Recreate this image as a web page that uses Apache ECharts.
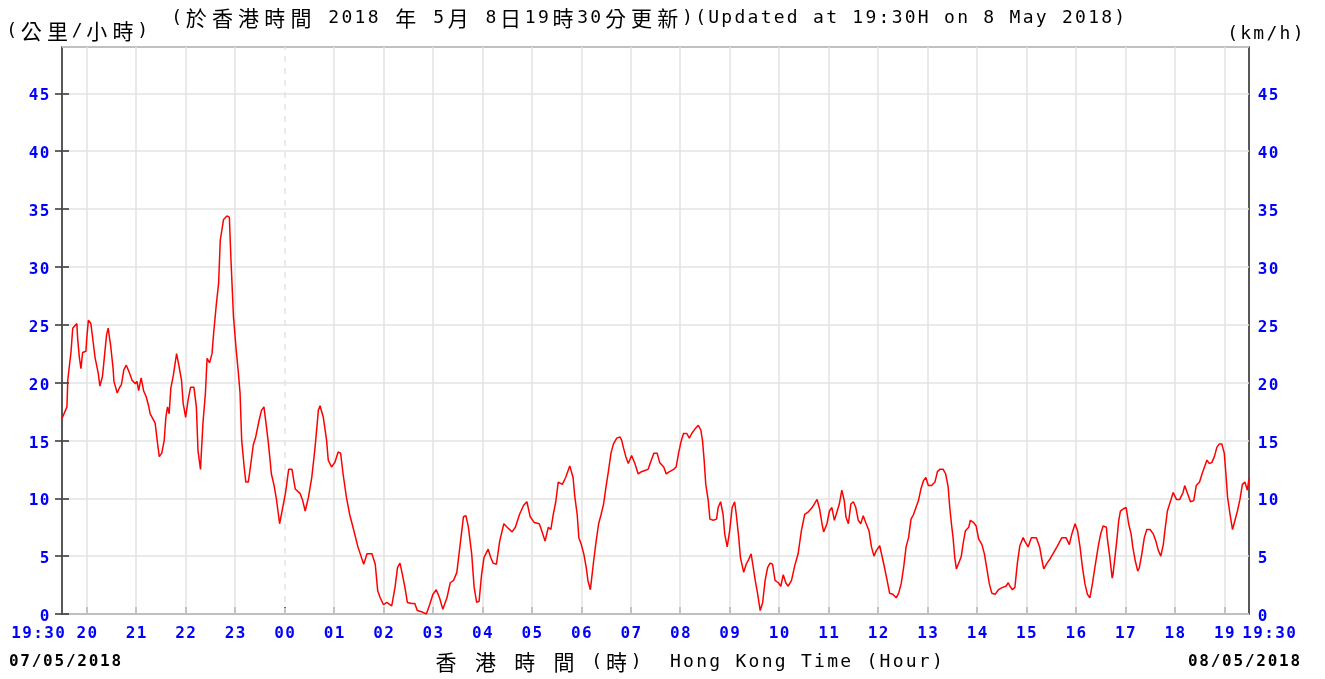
<!DOCTYPE html>
<html>
<head>
<meta charset="utf-8">
<title>Wind speed</title>
<script src="https://cdn.jsdelivr.net/npm/echarts@6/dist/echarts.min.js"></script>
<style>
  html, body { margin: 0; padding: 0; background: #ffffff; }
  #chart { width: 1325px; height: 679px; }
</style>
</head>
<body>
<div id="chart"></div>
<script>
// Minutes elapsed since 19:30 on 07/05/2018, and the wind speed (km/h) at that moment.
const minutes = [
  0, 6, 7, 11, 13, 18, 19, 21, 23, 25, 29, 30, 32, 35, 38, 40, 44, 46, 49, 51,
  54, 56, 59, 62, 63, 67, 70, 72, 75, 78, 82, 85, 89, 91, 93, 96, 99, 102, 105, 107,
  113, 116, 118, 121, 124, 126, 128, 130, 132, 135, 139, 142, 145, 147, 150, 153, 156, 160, 163, 165,
  168, 171, 174, 176, 179, 182, 184, 187, 190, 192, 196, 200, 203, 205, 208, 211, 214, 216, 218, 221,
  223, 226, 228, 232, 235, 239, 242, 245, 248, 250, 252, 254, 257, 260, 264, 271, 275, 279, 283, 289,
  292, 295, 299, 303, 307, 311, 313, 317, 321, 323, 327, 331, 335, 338, 341, 345, 349, 353, 359, 366,
  370, 376, 380, 383, 386, 390, 394, 400, 404, 407, 410, 413, 416, 419, 424, 428, 431, 436, 442, 446,
  450, 454, 458, 462, 467, 471, 475, 479, 483, 487, 490, 493, 497, 500, 503, 506, 509, 512, 517, 520,
  523, 527, 531, 536, 540, 546, 550, 555, 560, 564, 568, 573, 579, 582, 586, 590, 593, 596, 599, 602,
  607, 611, 616, 620, 622, 625, 627, 630, 633, 636, 638, 641, 645, 648, 651, 654, 657, 660, 663, 666,
  669, 673, 677, 679, 681, 684, 687, 691, 695, 699, 703, 707, 711, 715, 718, 722, 725, 730, 733, 737,
  742, 745, 748, 751, 754, 758, 761, 764, 768, 772, 775, 777, 779, 781, 784, 786, 790, 794, 796, 799,
  802, 804, 807, 810, 813, 816, 818, 821, 823, 827, 830, 833, 836, 838, 841, 844, 847, 850, 853, 856,
  859, 862, 865, 869, 872, 875, 878, 881, 885, 889, 893, 897, 901, 905, 910, 916, 919, 922, 924, 928,
  931, 934, 937, 940, 943, 946, 949, 951, 954, 957, 960, 963, 966, 969, 972, 975, 979, 982, 985, 988,
  992, 994, 997, 1001, 1004, 1008, 1012, 1015, 1018, 1021, 1024, 1027, 1030, 1033, 1036, 1039, 1042, 1045, 1048, 1051,
  1055, 1059, 1062, 1065, 1069, 1072, 1075, 1077, 1079, 1081, 1083, 1085, 1089, 1091, 1093, 1096, 1100, 1102, 1106, 1109,
  1112, 1116, 1119, 1122, 1125, 1128, 1132, 1136, 1141, 1145, 1148, 1150, 1153, 1156, 1159, 1162, 1166, 1168, 1172, 1176,
  1182, 1186, 1189, 1191, 1195, 1199, 1203, 1207, 1213, 1218, 1222, 1225, 1229, 1232, 1235, 1238, 1241, 1244, 1247, 1250,
  1253, 1257, 1260, 1263, 1267, 1268, 1271, 1274, 1275, 1278, 1280, 1282, 1284, 1288, 1291, 1294, 1297, 1299, 1302, 1305,
  1307, 1310, 1313, 1316, 1320, 1324, 1327, 1330, 1333, 1336, 1338, 1341, 1345, 1348, 1352, 1356, 1360, 1362, 1365, 1369,
  1373, 1376, 1380, 1383, 1386, 1389, 1392, 1395, 1398, 1401, 1404, 1407, 1410, 1412, 1414, 1417, 1420, 1423, 1426, 1429,
  1432, 1435, 1438, 1440
];

const speeds = [
  16.9, 17.9, 20.2, 22.7, 24.7, 25.1, 23.8, 22.2, 21.2, 22.6, 22.7, 23.8, 25.4, 25.1, 23.4, 22.2, 20.8, 19.7, 20.5, 21.9,
  24.1, 24.7, 23.2, 21.2, 20.1, 19.1, 19.6, 19.8, 21.1, 21.5, 20.8, 20.2, 19.9, 20.1, 19.3, 20.4, 19.3, 18.8, 18.0, 17.3,
  16.5, 14.7, 13.6, 13.9, 15.0, 17.0, 17.9, 17.3, 19.5, 20.6, 22.5, 21.4, 20.2, 18.2, 17.0, 18.5, 19.6, 19.6, 17.9, 14.1,
  12.5, 16.5, 19.1, 22.1, 21.7, 22.5, 24.3, 26.6, 28.6, 32.3, 34.1, 34.4, 34.3, 30.6, 25.7, 23.1, 20.8, 19.1, 15.0, 12.7,
  11.4, 11.4, 12.4, 14.6, 15.3, 16.7, 17.6, 17.9, 16.2, 15.0, 13.6, 12.1, 11.2, 10.0, 7.8, 10.4, 12.5, 12.5, 10.8, 10.4,
  9.8, 8.9, 10.1, 11.8, 14.4, 17.6, 18.0, 17.0, 15.0, 13.3, 12.7, 13.1, 14.0, 13.9, 12.1, 10.1, 8.6, 7.5, 5.8, 4.3,
  5.2, 5.2, 4.3, 2.0, 1.4, 0.8, 1.0, 0.7, 2.3, 4.0, 4.4, 3.4, 2.3, 1.0, 0.9, 0.9, 0.3, 0.2, 0.0, 0.8,
  1.7, 2.1, 1.4, 0.4, 1.4, 2.7, 2.9, 3.6, 6.0, 8.4, 8.5, 7.5, 5.2, 2.3, 1.0, 1.1, 3.4, 4.9, 5.6, 4.9,
  4.4, 4.3, 6.3, 7.8, 7.5, 7.1, 7.5, 8.6, 9.4, 9.7, 8.4, 7.9, 7.8, 7.2, 6.3, 7.5, 7.3, 8.6, 9.7, 11.4,
  11.2, 11.8, 12.8, 11.8, 10.2, 8.6, 6.6, 6.0, 5.2, 4.0, 2.9, 2.1, 4.6, 6.3, 7.8, 8.6, 9.5, 11.0, 12.4, 13.9,
  14.7, 15.2, 15.3, 15.0, 14.4, 13.6, 13.0, 13.7, 13.0, 12.1, 12.3, 12.4, 12.5, 13.3, 13.9, 13.9, 13.1, 12.7, 12.1, 12.3,
  12.5, 12.7, 13.9, 14.9, 15.6, 15.6, 15.2, 15.6, 16.0, 16.3, 15.9, 15.0, 13.3, 11.2, 9.8, 8.2, 8.1, 8.2, 9.2, 9.7,
  8.6, 6.9, 5.8, 7.2, 9.2, 9.7, 8.6, 6.6, 4.9, 3.6, 4.3, 4.7, 5.2, 4.3, 2.9, 1.7, 0.3, 1.0, 2.9, 4.0,
  4.4, 4.3, 2.9, 2.7, 2.4, 3.4, 2.7, 2.4, 2.9, 4.2, 5.2, 7.2, 8.6, 8.8, 9.2, 9.9, 9.1, 7.8, 7.1, 7.8,
  8.9, 9.2, 8.1, 8.8, 9.5, 10.7, 9.8, 8.4, 7.8, 9.5, 9.7, 9.2, 8.1, 7.8, 8.5, 7.9, 7.2, 5.8, 5.0, 5.5,
  5.9, 5.8, 4.3, 2.9, 1.8, 1.7, 1.4, 1.8, 2.6, 4.0, 5.8, 6.6, 8.2, 8.6, 9.2, 9.8, 10.8, 11.5, 11.8, 11.1,
  11.1, 11.4, 12.3, 12.5, 12.5, 12.1, 11.0, 9.2, 7.8, 6.6, 4.9, 3.9, 4.6, 5.0, 6.0, 7.2, 7.5, 8.1, 7.9, 7.6,
  6.5, 6.0, 5.2, 3.9, 2.6, 1.8, 1.7, 2.1, 2.3, 2.4, 2.7, 2.4, 2.1, 2.3, 4.4, 5.9, 6.6, 6.3, 5.8, 6.6,
  6.6, 5.8, 4.6, 3.9, 4.4, 4.8, 5.3, 5.8, 6.6, 6.6, 6.0, 6.9, 7.8, 7.2, 5.8, 4.0, 2.6, 1.7, 1.4, 2.6,
  4.0, 5.8, 6.9, 7.6, 7.5, 6.6, 5.0, 3.1, 3.4, 5.3, 6.6, 8.1, 8.9, 9.1, 9.2, 7.8, 6.9, 5.8, 4.6, 3.7,
  4.0, 5.2, 6.6, 7.3, 7.3, 6.9, 6.3, 5.5, 5.0, 6.0, 7.2, 8.9, 9.8, 10.5, 9.9, 9.9, 10.5, 11.1, 10.5, 9.7,
  9.8, 11.1, 11.4, 12.1, 12.7, 13.3, 13.0, 13.1, 13.6, 14.4, 14.7, 14.7, 13.9, 12.1, 10.1, 8.6, 7.3, 8.1, 8.9, 9.9,
  11.2, 11.4, 10.7, 11.7
];

// Hour marks along the time axis (minutes since 19:30) and their labels.
const hourTicks = [30, 90, 150, 210, 270, 330, 390, 450, 510, 570, 630, 690,
                   750, 810, 870, 930, 990, 1050, 1110, 1170, 1230, 1290, 1350, 1410];
const hourLabels = ['20', '21', '22', '23', '00', '01', '02', '03', '04', '05', '06', '07',
                    '08', '09', '10', '11', '12', '13', '14', '15', '16', '17', '18', '19'];
const spanMinutes = 1440;
const edgeLabel = '19:30';
const midnightTick = hourTicks[hourLabels.indexOf('00')];

// Speed axis
const speedMax = 49;
const speedStep = 5;

// Text
const unitZh = '(公里/小時)';
const unitEn = '(km/h)';
const titleText = '(於香港時間 2018 年 5月 8日19時30分更新)(Updated at 19:30H on 8 May 2018)';
const axisTitle = '香 港 時 間 (時)  Hong Kong Time (Hour)';
const startDate = '07/05/2018';
const endDate = '08/05/2018';

const MONO = '"DejaVu Sans Mono", "Liberation Mono", monospace';
const CJK = '"Noto Sans CJK TC", "Noto Sans CJK SC", sans-serif';

// Fixed-pitch text: each character sits in its own cell (wide glyphs take two cells).
function isWide(ch) { return ch.charCodeAt(0) > 0x2e80; }
function cellText(str, half, wide) {
  return str.split('').map(ch => '{' + (isWide(ch) ? wide : half) + '|' + ch + '}').join('');
}

const textRich = {
  h: { width: 13.1, align: 'center', fontFamily: MONO, fontSize: 18, lineHeight: 22, fill: '#000' },
  f: { width: 26.2, align: 'center', fontFamily: CJK, fontSize: 21, lineHeight: 22, fill: '#000' }
};
const dateRich = {
  d: { width: 11.4, align: 'center', fontFamily: MONO, fontSize: 16, fontWeight: 'bold', lineHeight: 18, fill: '#000' }
};
const tickRich = {
  c: { width: 11, align: 'center', fontFamily: MONO, fontSize: 16, fontWeight: 'bold', lineHeight: 16, color: '#0000ff' },
  gl: { width: 40 },
  gr: { width: 48 }
};

function hourLabel(v) {
  const i = hourTicks.indexOf(v);
  return i >= 0 ? cellText(hourLabels[i], 'c', 'c') : '';
}
// The two "19:30" end labels sit just outside the plot edges.
function edgeLabelText(v) {
  if (v === 0) return cellText(edgeLabel, 'c', 'c') + '{gr| }';
  if (v === spanMinutes) return '{gl| }' + cellText(edgeLabel, 'c', 'c');
  return '';
}
function yLabel(v) {
  if (v % speedStep !== 0 || v > speedMax) return '';
  return cellText(String(v), 'c', 'c');
}

const gridColor = '#e3e3e3';
const tickLine = { color: '#333', width: 1.5 };

function speedAxis(position, margin) {
  return {
    type: 'value',
    position: position,
    min: 0,
    max: speedMax,
    interval: speedStep,
    axisLine: { show: false },
    axisTick: { show: true, inside: true, length: 7, lineStyle: tickLine },
    axisLabel: {
      margin: margin, formatter: yLabel, rich: tickRich, padding: [6, 0, 0, 0],
      showMinLabel: true, showMaxLabel: false
    },
    splitLine: { show: position === 'left', lineStyle: { color: gridColor, width: 1.5 } }
  };
}

const chart = echarts.init(document.getElementById('chart'), null, { renderer: 'canvas' });

chart.setOption({
  animation: false,
  backgroundColor: '#ffffff',
  grid: {
    left: 62, right: 76, top: 47, bottom: 65,
    show: true, borderColor: '#222', borderWidth: 1.5, backgroundColor: 'transparent'
  },
  xAxis: [{
    type: 'value',
    min: 0,
    max: spanMinutes,
    axisLine: { show: false },
    axisTick: { show: true, inside: true, length: 7, lineStyle: tickLine, customValues: hourTicks },
    axisLabel: { margin: 12, formatter: hourLabel, rich: tickRich, customValues: hourTicks },
    splitLine: { show: false }
  }, {
    type: 'value',
    position: 'bottom',
    min: 0,
    max: spanMinutes,
    axisLine: { show: false },
    axisTick: { show: false },
    axisLabel: {
      margin: 12, formatter: edgeLabelText, rich: tickRich,
      showMinLabel: true, showMaxLabel: true,
      customValues: [0, spanMinutes]
    },
    splitLine: { show: false }
  }],
  yAxis: [speedAxis('left', 12), speedAxis('right', 8)],
  series: [{
    type: 'line',
    xAxisIndex: 0,
    yAxisIndex: 0,
    data: minutes.map((m, i) => [m, speeds[i]]),
    symbol: 'none',
    showSymbol: false,
    z: 3,
    lineStyle: { color: '#ff0000', width: 1.5 },
    markLine: {
      silent: true,
      z: 1,
      symbol: ['none', 'none'],
      label: { show: false },
      animation: false,
      data: hourTicks.map(m => ({
        xAxis: m,
        lineStyle: m === midnightTick
          ? { color: gridColor, width: 1.5, type: [6, 6] }
          : { color: gridColor, width: 1.5, type: 'solid' }
      }))
    }
  }],
  graphic: [
    { type: 'text', x: 5, y: 31, style: { text: cellText(unitZh, 'h', 'f'), rich: textRich, verticalAlign: 'middle' } },
    { type: 'text', x: 170, y: 18, style: { text: cellText(titleText, 'h', 'f'), rich: textRich, verticalAlign: 'middle' } },
    { type: 'text', x: 1226, y: 34, style: { text: cellText(unitEn, 'h', 'f'), rich: textRich, verticalAlign: 'middle' } },
    { type: 'text', x: 433, y: 662, style: { text: cellText(axisTitle, 'h', 'f'), rich: textRich, verticalAlign: 'middle' } },
    { type: 'text', x: 8, y: 662, style: { text: cellText(startDate, 'd', 'd'), rich: dateRich, verticalAlign: 'middle' } },
    { type: 'text', x: 1187, y: 662, style: { text: cellText(endDate, 'd', 'd'), rich: dateRich, verticalAlign: 'middle' } }
  ]
});
</script>
</body>
</html>
